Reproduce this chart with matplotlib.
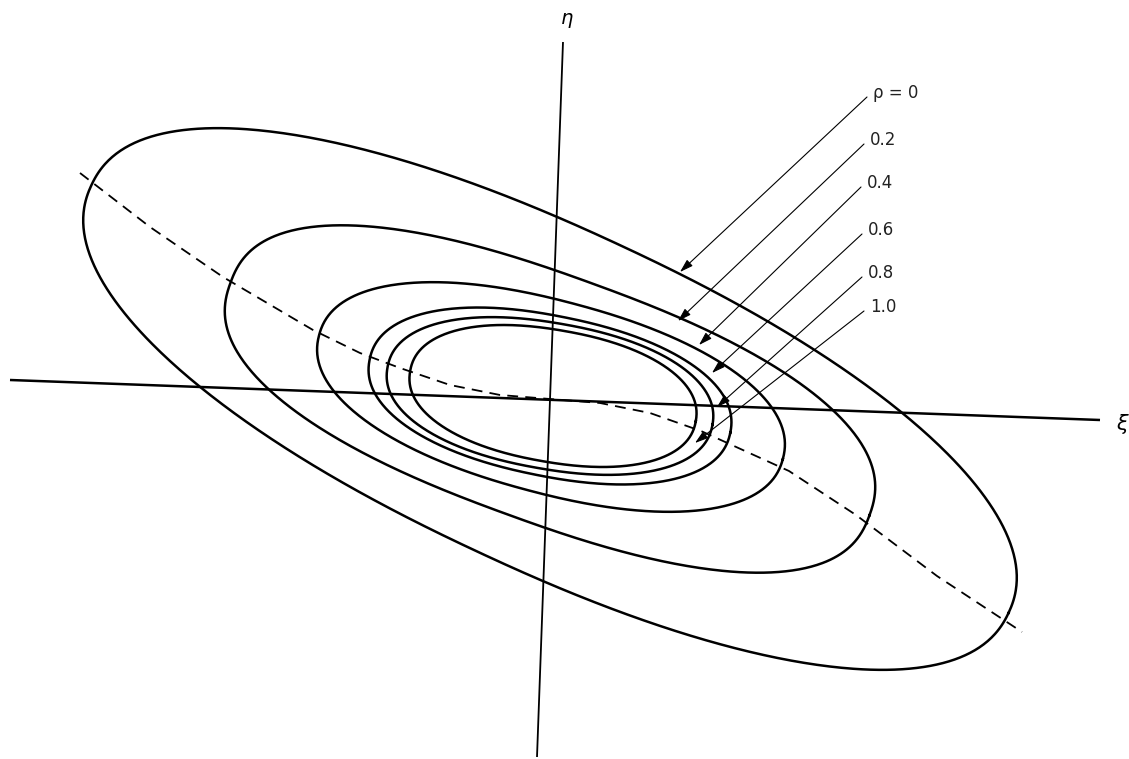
import numpy as np
import matplotlib
matplotlib.use("Agg")
import matplotlib.pyplot as plt

W, H = 1129, 759

# contour shapes (pixels of the drawing, centre + semi axes + tilt of the long axis)
rho_labels = ["\u03c1 = 0", "0.2", "0.4", "0.6", "0.8", "1.0"]
semi_major = [506, 340, 240, 184, 165, 145]
semi_minor = [169, 123, 96, 80, 73, 66]
tilt_deg = [-25, -20, -15, -11.5, -10, -10]
squareness = [2.2, 2.4, 2.2, 2.2, 2.2, 2.2]
centre_x = [550, 550, 551, 550, 550, 553]
centre_y = [399, 399, 397, 396, 396, 396]

# label anchors and arrow tips
label_x = [873, 870, 867, 868, 868, 870]
label_y = [93, 140, 183, 230, 273, 307]
tip_x = [680, 678, 699, 712, 717, 695]
tip_y = [272, 321, 345, 373, 407, 443]

# dashed locus through the ends of the long axes
locus_x = [80, 150, 223, 313, 360, 400, 450, 500, 550, 600, 650, 701, 789, 856, 937, 1022]
locus_y = [173, 227, 277, 330, 353, 368, 385, 395, 399, 403, 413, 431, 471, 515, 576, 632]

# xi and eta axes (the scan is a little skewed)
xi_x = [10, 1100]
xi_y = [380, 420]
eta_x = [563, 537]
eta_y = [42, 757]


def contour(a, b, tilt, n, cx, cy):
    t = np.linspace(0, 2 * np.pi, 721)
    c, s = np.cos(t), np.sin(t)
    xl = a * np.sign(c) * np.abs(c) ** (2.0 / n)
    yl = b * np.sign(s) * np.abs(s) ** (2.0 / n)
    th = np.radians(tilt)
    u = xl * np.cos(th) - yl * np.sin(th)
    v = xl * np.sin(th) + yl * np.cos(th)
    return cx + u, cy - v


fig = plt.figure(figsize=(W / 100, H / 100), dpi=100)
ax = fig.add_axes([0, 0, 1, 1])
ax.set_xlim(0, W)
ax.set_ylim(H, 0)
ax.set_aspect("equal")
ax.axis("off")

ax.plot(xi_x, xi_y, color="black", lw=1.8, solid_capstyle="butt")
ax.plot(eta_x, eta_y, color="black", lw=1.3, solid_capstyle="butt")
ax.text(1122, 424, "\u03be", fontsize=15, style="italic", ha="center", va="center")
ax.text(567, 19, "\u03b7", fontsize=14, style="italic", ha="center", va="center")

ax.plot(locus_x, locus_y, color="black", lw=1.3, ls=(0, (6, 4)))

for i in range(len(rho_labels)):
    px, py = contour(semi_major[i], semi_minor[i], tilt_deg[i], squareness[i],
                     centre_x[i], centre_y[i])
    ax.plot(px, py, color="black", lw=1.8)

    ax.annotate("", xy=(tip_x[i], tip_y[i]), xytext=(label_x[i] - 6, label_y[i] + 4),
                arrowprops=dict(arrowstyle="-|>,head_length=0.8,head_width=0.25",
                                mutation_scale=10, lw=0.8, color="black",
                                shrinkA=0, shrinkB=0))
    ax.text(label_x[i], label_y[i], rho_labels[i], fontsize=12, ha="left", va="center",
            color="#222222")

fig.savefig("out.png", dpi=100, facecolor="white")
